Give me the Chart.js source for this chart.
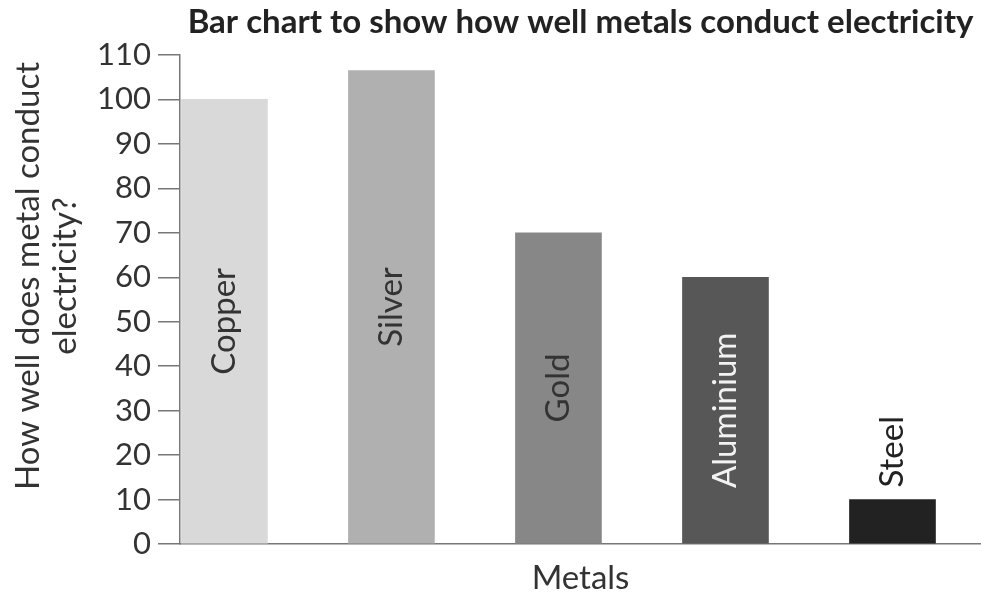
<!DOCTYPE html>
<html>
<head>
<meta charset="utf-8">
<script src="https://cdn.jsdelivr.net/npm/chart.js@4/dist/chart.umd.min.js"></script>
<style>
  html, body { margin: 0; padding: 0; background: #fff; }
  #wrap { width: 981px; height: 597px; }
</style>
</head>
<body>
<div id="wrap"><canvas id="myChart"></canvas></div>
<script>
const metals = ['Copper', 'Silver', 'Gold', 'Aluminium', 'Steel'];
const conductivity = [100, 106.5, 70, 60, 10];
const barColours = ['#d9d9d9', '#b0b0b0', '#878787', '#575757', '#222222'];
const labelColours = ['#333333', '#333333', '#333333', '#f2f2f2', '#222222'];
const yTitle = ['How well does metal conduct', 'electricity?'];

// names written up the bars (inside, or above when the bar is short)
const barNames = {
  id: 'barNames',
  afterDatasetsDraw(chart) {
    const ctx = chart.ctx;
    const bars = chart.getDatasetMeta(0).data;
    ctx.save();
    ctx.font = '33px Lato';
    ctx.textBaseline = 'middle';
    bars.forEach((bar, i) => {
      const inside = conductivity[i] >= 30;
      ctx.save();
      ctx.fillStyle = labelColours[i];
      if (inside) {
        ctx.translate(bar.x, (bar.y + bar.base) / 2);
        ctx.rotate(-Math.PI / 2);
        ctx.textAlign = 'center';
      } else {
        ctx.translate(bar.x, bar.y - 12);
        ctx.rotate(-Math.PI / 2);
        ctx.textAlign = 'left';
      }
      ctx.fillText(metals[i], 0, 0);
      ctx.restore();
    });
    ctx.restore();
  }
};

// two line y axis title, sits a little above the middle of the axis
const yAxisTitle = {
  id: 'yAxisTitle',
  afterDraw(chart) {
    const ctx = chart.ctx;
    ctx.save();
    ctx.font = '33px Lato';
    ctx.fillStyle = '#333';
    ctx.textAlign = 'center';
    ctx.textBaseline = 'middle';
    ctx.translate(28, 276);
    ctx.rotate(-Math.PI / 2);
    yTitle.forEach((line, i) => ctx.fillText(line, 0, i * 37));
    ctx.restore();
  }
};

const ctx = document.getElementById('myChart');

new Chart(ctx, {
  type: 'bar',
  data: {
    datasets: [{
      label: 'Conductivity',
      data: conductivity.map((v, i) => ({ x: i, y: v })),
      backgroundColor: barColours,
      barThickness: 86
    }]
  },
  options: {
    responsive: true,
    maintainAspectRatio: false,
    animation: false,
    layout: { padding: 0 },
    plugins: {
      legend: { display: false },
      tooltip: { enabled: false },
      title: {
        display: true,
        fullSize: false,
        text: 'Bar chart to show how well metals conduct electricity',
        color: '#222',
        font: { family: 'Lato', size: 33, weight: 'bold', lineHeight: 1.2 },
        padding: { top: 3, bottom: 12.4 }
      }
    },
    scales: {
      x: {
        type: 'linear',
        offset: false,
        min: -0.266,
        max: 4.53,
        ticks: { display: false },
        grid: { display: false },
        border: { display: true, color: '#777', width: 1.5 },
        title: {
          display: true,
          text: 'Metals',
          color: '#333',
          font: { family: 'Lato', size: 33, lineHeight: 1.1 },
          padding: { top: 0, bottom: 0 }
        },
        afterFit(scale) { scale.height = 53; }
      },
      y: {
        min: 0,
        max: 110,
        ticks: {
          stepSize: 10,
          color: '#333',
          padding: 7,
          font: { family: 'Lato', size: 31 }
        },
        grid: {
          drawOnChartArea: false,
          drawTicks: true,
          tickLength: 22,
          color: '#777',
          lineWidth: 1.5
        },
        border: { display: true, color: '#777', width: 1.5 },
        afterFit(scale) { scale.width = 180; }
      }
    }
  },
  plugins: [barNames, yAxisTitle]
});
</script>
</body>
</html>
